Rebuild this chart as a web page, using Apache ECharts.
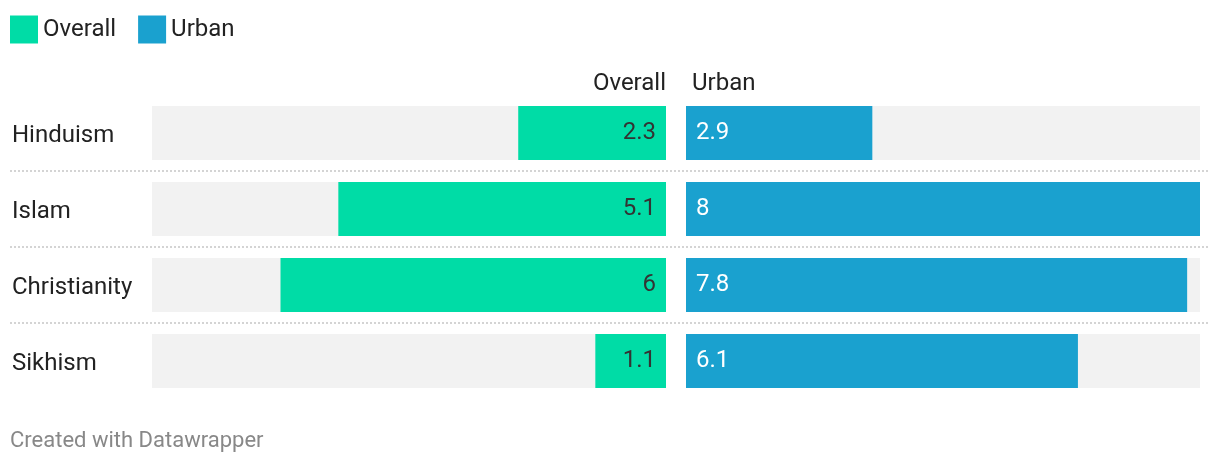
<!DOCTYPE html>
<html><head><meta charset="utf-8">
<script src="https://cdn.jsdelivr.net/npm/echarts@6/dist/echarts.min.js"></script>
<style>html,body{margin:0;padding:0;background:#fff}#c{width:1220px;height:466px}</style>
</head><body><div id="c"></div>
<script>
const categories = ['Hinduism', 'Islam', 'Christianity', 'Sikhism'];
const overall = [2.3, 5.1, 6, 1.1];
const urban = [2.9, 8, 7.8, 6.1];
const seriesNames = ['Overall', 'Urban'];
const colors = ['#00dca6', '#1aa1cf'];

const FONT = 'Roboto';
const FS = 24;
const gridTop = 95, pitch = 76, n = categories.length;
const leftX = 152, colW = 514, rightX = 686;

const chart = echarts.init(document.getElementById('c'));
const gfx = [];
for (let i = 1; i < n; i++) {
  const y = gridTop + i * pitch;
  gfx.push({type: 'line', shape: {x1: 10, y1: y, x2: 1210, y2: y}, silent: true,
    style: {stroke: '#d4d4d4', lineWidth: 2, lineDash: [2, 2]}});
}
gfx.push({type: 'text', right: 1220 - 666, top: 72, style: {text: seriesNames[0], font: FS + 'px ' + FONT, fill: '#222', textAlign: 'right'}});
gfx.push({type: 'text', left: 692, top: 72, style: {text: seriesNames[1], font: FS + 'px ' + FONT, fill: '#222'}});
gfx.push({type: 'text', left: 10, top: 430, style: {text: 'Created with Datawrapper', font: '22px ' + FONT, fill: '#888'}});

const catAxis = (gi, show) => ({
  type: 'category', gridIndex: gi, data: categories, inverse: true,
  axisLine: {show: false}, axisTick: {show: false},
  axisLabel: show ? {show: true, align: 'left', margin: leftX - 12,
    formatter: v => '{a|' + v + '}',
    rich: {a: {padding: [5, 0, 0, 0], color: '#222', fontSize: FS, fontFamily: FONT}},
    color: '#222', fontSize: FS, fontFamily: FONT} : {show: false}
});
const valAxis = (gi, inv) => ({
  type: 'value', gridIndex: gi, min: 0, max: 8, inverse: inv, show: false
});

chart.setOption({
  animation: false,
  textStyle: {fontFamily: FONT},
  legend: {
    left: 10, top: 12, padding: 0, itemWidth: 28, itemHeight: 28, itemGap: 22, itemTextGap: 6,
    icon: 'rect', data: seriesNames,
    textStyle: {fontSize: FS, color: '#222', fontFamily: FONT, lineHeight: 32, padding: [3, 0, 0, 0]}
  },
  grid: [
    {left: leftX, width: colW, top: gridTop, height: n * pitch},
    {left: rightX, width: colW, top: gridTop, height: n * pitch}
  ],
  xAxis: [valAxis(0, true), valAxis(1, false)],
  yAxis: [catAxis(0, true), catAxis(1, false)],
  graphic: gfx,
  series: [
    {name: seriesNames[0], type: 'bar', xAxisIndex: 0, yAxisIndex: 0, data: overall,
      barWidth: 54, itemStyle: {color: colors[0]},
      showBackground: true, backgroundStyle: {color: '#f2f2f2'},
      label: {show: true, position: 'insideRight', distance: 10, padding: [2, 0, 0, 0], color: '#333', fontSize: FS, fontFamily: FONT}},
    {name: seriesNames[1], type: 'bar', xAxisIndex: 1, yAxisIndex: 1, data: urban,
      barWidth: 54, itemStyle: {color: colors[1]},
      showBackground: true, backgroundStyle: {color: '#f2f2f2'},
      label: {show: true, position: 'insideLeft', distance: 10, padding: [2, 0, 0, 0], color: '#fff', fontSize: FS, fontFamily: FONT}}
  ]
});
</script></body></html>
